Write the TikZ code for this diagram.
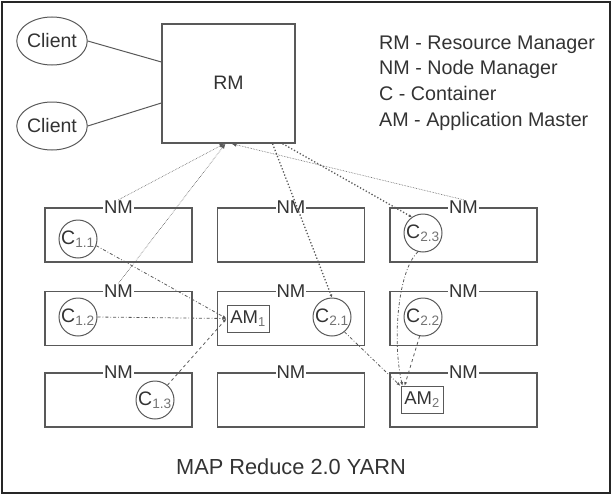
\documentclass[tikz,border=0pt]{standalone}
\usepackage{fontspec}
\setmainfont{Liberation Sans}
\usepackage{xcolor}
\usetikzlibrary{shapes.geometric,arrows.meta}

\definecolor{linegray}{gray}{0.35}

\begin{document}
\begin{tikzpicture}[x=1pt,y=-1pt,
		every node/.style={text=black!80},
		client/.style={ellipse,draw=linegray,line width=1pt,minimum width=70pt,minimum height=48pt,inner sep=0pt,font=\fontsize{19.5}{22}\selectfont},
		nmbox/.style={draw=linegray,line width=1.3pt,minimum width=147pt,minimum height=54pt,inner sep=0pt},
		nmlabel/.style={fill=white,inner sep=1pt,font=\fontsize{18.5}{20}\selectfont},
		cont/.style={circle,draw=linegray,line width=1pt,minimum size=38pt,inner sep=0pt,font=\fontsize{19.5}{22}\selectfont},
		am/.style={draw=linegray,line width=1pt,inner sep=2pt,minimum width=42pt,minimum height=27pt,font=\fontsize{18.5}{20}\selectfont},
		beat/.style={draw=linegray,line width=0.6pt,densely dotted,-{Latex[length=5pt,width=4pt]}},
		alloc/.style={draw=linegray,line width=1.3pt,dotted,-{Latex[length=3pt,width=3pt]}},
		task/.style={draw=linegray,line width=0.8pt,dash dot,-{Latex[length=4pt,width=3pt]}}]
	\useasboundingbox (0,0) rectangle (612,495);
	\draw[black!85,line width=2pt] (2,2) rectangle (610,493);

	% resource manager and clients
	\node[draw=linegray,line width=1.3pt,minimum width=133pt,minimum height=119pt,inner sep=0pt] (rm) at (228.5,83.5) {};
	\node[font=\fontsize{19.5}{22}\selectfont] (rmtext) at (228.5,83) {RM};
	\node[client] (cl1) at (52,41) {Client};
	\node[client] (cl2) at (52,126) {Client};
	\draw[linegray,line width=1pt] (cl1.east) -- (rm.west |- 0,62);
	\draw[linegray,line width=1pt] (cl2.east) -- (rm.west |- 0,103);

	% legend
	\node[anchor=north west,align=left,inner sep=0pt,font=\fontsize{19.7}{25.7}\selectfont] (legend) at (379,35.5)
		{RM - Resource Manager\\NM - Node Manager\\C - Container\\AM - Application Master};

	% node managers
	\node[nmbox] (nm11) at (118.5,235) {};
	\node[nmbox] (nm21) at (291,235) {};
	\node[nmbox] (nm31) at (463.5,235) {};
	\node[nmbox] (nm12) at (118.5,318.5) {};
	\node[nmbox] (nm22) at (291,318.5) {};
	\node[nmbox] (nm32) at (463.5,318.5) {};
	\node[nmbox] (nm13) at (118.5,400) {};
	\node[nmbox] (nm23) at (291,400) {};
	\node[nmbox] (nm33) at (463.5,400) {};
	\node[nmlabel] (nml11) at (nm11.north) {NM};
	\node[nmlabel] (nml21) at (nm21.north) {NM};
	\node[nmlabel] (nml31) at (nm31.north) {NM};
	\node[nmlabel] (nml12) at (nm12.north) {NM};
	\node[nmlabel] (nml22) at (nm22.north) {NM};
	\node[nmlabel] (nml32) at (nm32.north) {NM};
	\node[nmlabel] (nml13) at (nm13.north) {NM};
	\node[nmlabel] (nml23) at (nm23.north) {NM};
	\node[nmlabel] (nml33) at (nm33.north) {NM};

	% containers and application masters
	\node[cont] (c11) at (78,239) {C\textsubscript{\color{black!55}1.1}};
	\node[cont] (c12) at (78,317) {C\textsubscript{\color{black!55}1.2}};
	\node[cont] (c13) at (155,400) {C\textsubscript{\color{black!55}1.3}};
	\node[cont] (c21) at (332,317) {C\textsubscript{\color{black!55}2.1}};
	\node[cont] (c22) at (423,317) {C\textsubscript{\color{black!55}2.2}};
	\node[cont] (c23) at (423,233) {C\textsubscript{\color{black!55}2.3}};
	\node[am] (am1) at (248,318.5) {AM\textsubscript{\color{black!55}1}};
	\node[am] (am2) at (422,400) {AM\textsubscript{\color{black!55}2}};

	% heartbeats to the resource manager
	\draw[beat] (nml11.north) -- ([xshift=-4pt]rm.south);
	\draw[beat] (nml12.north) -- ([xshift=-3pt]rm.south);
	\draw[beat] (nml31.north) -- ([xshift=3pt]rm.south);

	% container allocation
	\draw[alloc] ([xshift=44pt]rm.south) -- (c21.north);
	\draw[alloc] ([xshift=54pt]rm.south) -- (c23.125);

	% tasks reporting to the application masters
	\draw[task] (c11.-20) -- (am1.west);
	\draw[task] (c12.east) -- (am1.west);
	\draw[task,dashed] (c13.50) -- (am1.west);
	\draw[task] (c21.-50) -- (am2.north west);
	\draw[task,dashed] (c22.-100) -- ([xshift=4pt]am2.north west);
	\draw[task] (c23.-105) .. controls (398,270) and (392,340) .. ([xshift=2pt]am2.north west);

	\node[font=\fontsize{21.8}{25}\selectfont] (title) at (291,467) {MAP Reduce 2.0 YARN};
\end{tikzpicture}
\end{document}
